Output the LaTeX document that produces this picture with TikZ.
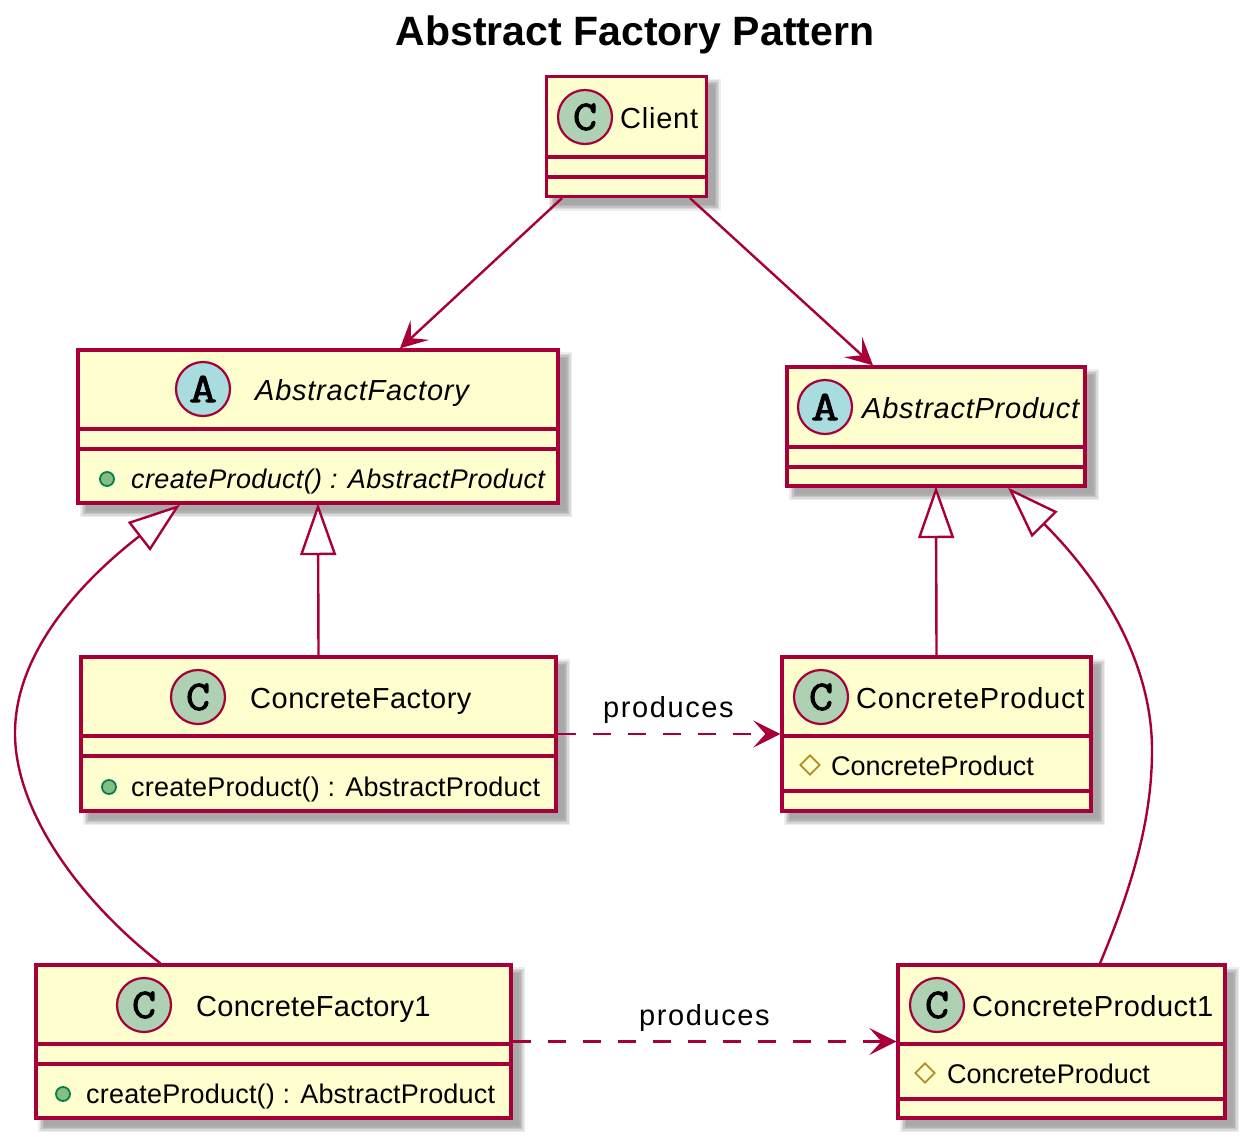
\documentclass[tikz,border=0pt]{standalone}
\usepackage{fontspec}
\setmainfont{Liberation Sans}
\newfontfamily\spfont[LetterSpace=2.6]{Liberation Sans}
\newfontfamily\spfontb[LetterSpace=1.7]{Liberation Sans}
\newfontfamily\spfontc[LetterSpace=0.9]{Liberation Sans}
\newfontfamily\lblfont[LetterSpace=5.5]{Liberation Sans}
\newfontfamily\methfont[LetterSpace=0.7]{Liberation Sans}
\newfontfamily\methfonti[LetterSpace=1.3]{Liberation Sans}
\newfontfamily\spotfont[FakeStretch=1.3,FakeBold=2]{Latin Modern Mono}
\newfontfamily\spotfontc[FakeStretch=1.1,FakeBold=2.5]{Latin Modern Mono}
\usetikzlibrary{arrows.meta,shadows,shapes.geometric}
\definecolor{umlred}{HTML}{A80036}
\definecolor{umlfill}{HTML}{FEFECE}
\definecolor{umlc}{HTML}{ADD1B2}
\definecolor{umla}{HTML}{A9DCDF}
\definecolor{pubfill}{HTML}{84BE84}
\definecolor{publine}{HTML}{038048}
\definecolor{protline}{HTML}{B38D22}
\tikzset{
  classbox/.style={draw=umlred,fill=umlfill,line width=3.3pt,rectangle,inner sep=0pt,
    general shadow={shadow xshift=8pt,shadow yshift=-8pt,draw=black!7,fill=black!7,line width=12pt},
    general shadow={shadow xshift=8pt,shadow yshift=-8pt,draw=black!15,fill=black!15,line width=9pt},
    general shadow={shadow xshift=8pt,shadow yshift=-8pt,draw=black!23,fill=black!23,line width=6pt},
    general shadow={shadow xshift=8pt,shadow yshift=-8pt,draw=black!30,fill=black!30,line width=3pt},
    general shadow={shadow xshift=8pt,shadow yshift=-8pt,draw=none,fill=black!34}},
  sep/.style={draw=umlred,line width=3.3pt},
  spot/.style={circle,draw=umlred,line width=2.2pt,minimum size=54pt,inner sep=0pt,font=\spotfont\fontsize{42}{42}\selectfont},
  spotc/.style={spot,fill=umlc,font=\spotfontc\fontsize{42}{42}\selectfont},
  cname/.style={anchor=base west,inner sep=0pt,font=\spfont\fontsize{29}{29}\selectfont},
  cnameb/.style={anchor=base west,inner sep=0pt,font=\spfontb\fontsize{29}{29}\selectfont},
  cnamec/.style={anchor=base west,inner sep=0pt,font=\spfontc\fontsize{29}{29}\selectfont},
  aname/.style={anchor=base west,inner sep=0pt,font=\spfont\itshape\fontsize{29}{29}\selectfont},
  member/.style={anchor=base west,inner sep=0pt,font=\fontsize{27}{27}\selectfont},
  method/.style={anchor=base west,inner sep=0pt,font=\methfont\fontsize{27}{27}\selectfont},
  amember/.style={anchor=base west,inner sep=0pt,font=\methfonti\itshape\fontsize{27}{27}\selectfont},
  lbl/.style={anchor=base west,inner sep=0pt,font=\lblfont\fontsize{29}{29}\selectfont},
  pub/.style={circle,draw=publine,fill=pubfill,line width=1.8pt,minimum size=14pt,inner sep=0pt},
  prot/.style={diamond,draw=protline,line width=1.8pt,minimum size=20pt,inner sep=0pt},
  assoc/.style={draw=umlred,line width=2.4pt,-{Stealth[length=27pt,width=27pt,inset=12pt,fill=umlred]}},
  dep/.style={assoc,dash pattern=on 18pt off 17pt},
  inherit/.style={draw=umlred,line width=2.4pt,-{Triangle[open,length=52pt,width=36pt,fill=white]}},
}
\begin{document}
\begin{tikzpicture}[x=1pt,y=-1pt]
\useasboundingbox (0,0) rectangle (1250,1143);
\node[anchor=base,inner sep=0pt,font=\bfseries\fontsize{41}{41}\selectfont] (title) at (635,45) {Abstract Factory Pattern};

\node[classbox,minimum width=160pt,minimum height=120pt] (client) at (626.5,136.5) {};
\node[classbox,minimum width=480pt,minimum height=153pt] (af) at (318,426.5) {};
\node[classbox,minimum width=298pt,minimum height=119pt] (ap) at (936,426.5) {};
\node[classbox,minimum width=475pt,minimum height=154pt] (cf) at (318.5,734) {};
\node[classbox,minimum width=309pt,minimum height=154pt] (cp) at (936.5,734) {};
\node[classbox,minimum width=475pt,minimum height=153pt] (cfa) at (273.5,1041.5) {};
\node[classbox,minimum width=327pt,minimum height=153pt] (cpa) at (1061.5,1041.5) {};

\draw[sep] (client.west |- 0,157) -- (client.east |- 0,157);
\draw[sep] (client.west |- 0,177) -- (client.east |- 0,177);
\draw[sep] (af.west |- 0,429) -- (af.east |- 0,429);
\draw[sep] (af.west |- 0,449) -- (af.east |- 0,449);
\draw[sep] (ap.west |- 0,447) -- (ap.east |- 0,447);
\draw[sep] (ap.west |- 0,467) -- (ap.east |- 0,467);
\draw[sep] (cf.west |- 0,736) -- (cf.east |- 0,736);
\draw[sep] (cf.west |- 0,756) -- (cf.east |- 0,756);
\draw[sep] (cp.west |- 0,736) -- (cp.east |- 0,736);
\draw[sep] (cp.west |- 0,791) -- (cp.east |- 0,791);
\draw[sep] (cfa.west |- 0,1044) -- (cfa.east |- 0,1044);
\draw[sep] (cfa.west |- 0,1064) -- (cfa.east |- 0,1064);
\draw[sep] (cpa.west |- 0,1044) -- (cpa.east |- 0,1044);
\draw[sep] (cpa.west |- 0,1099) -- (cpa.east |- 0,1099);

\node[spotc] (s1) at (585,117) {C};
\node[spot,fill=umla] (s2) at (203,389) {A};
\node[spot,fill=umla] (s3) at (825,407) {A};
\node[spotc] (s4) at (198,697) {C};
\node[spotc] (s5) at (821,697) {C};
\node[spotc] (s6) at (144,1005) {C};
\node[spotc] (s7) at (937,1005) {C};

\node[cname] (n1) at (620,128) {Client};
\node[aname] (n2) at (255,400) {AbstractFactory};
\node[aname] (n3) at (862,418) {AbstractProduct};
\node[cnameb] (n4) at (250,708) {ConcreteFactory};
\node[cname] (n5) at (856,708) {ConcreteProduct};
\node[cnamec] (n6) at (196,1016) {ConcreteFactory1};
\node[cnameb] (n7) at (972,1016) {ConcreteProduct1};

\node[pub] (i1) at (107,479) {};
\node[pub] (i2) at (109,787) {};
\node[pub] (i3) at (63,1094) {};
\node[prot] (i4) at (810,765) {};
\node[prot] (i5) at (925,1073) {};
\node[amember] (m1) at (131,488) {createProduct() : AbstractProduct};
\node[method] (m2) at (131,796) {createProduct() : AbstractProduct};
\node[method] (m3) at (86,1103) {createProduct() : AbstractProduct};
\node[member] (m4) at (831,775) {ConcreteProduct};
\node[member] (m5) at (947,1083) {ConcreteProduct};

\draw[assoc] ([xshift=-64.5pt]client.south) -- ([xshift=82pt]af.north);
\draw[assoc] ([xshift=63.5pt]client.south) -- ([xshift=-63pt]ap.north);
\draw[inherit] (cf.north) -- ([yshift=1.5pt]af.south);
\draw[inherit] (cp.north) -- ([yshift=1.5pt]ap.south);
\draw[inherit] ([xshift=-113pt]cfa.north) .. controls (85,905) and (15,815) .. (15,733)
  .. controls (15,660) and (70,590) .. ([xshift=-138pt]af.south);
\draw[inherit] ([xshift=38.5pt]cpa.north) .. controls (1135,880) and (1152,815) .. (1152,750)
  .. controls (1152,670) and (1110,590) .. ([xshift=72pt]ap.south);
\draw[dep] (cf.east) -- (cp.west);
\draw[dep] (cfa.east) -- (cpa.west);
\node[lbl] (l1) at (603,717) {produces};
\node[lbl] (l2) at (639,1025) {produces};
\end{tikzpicture}
\end{document}
